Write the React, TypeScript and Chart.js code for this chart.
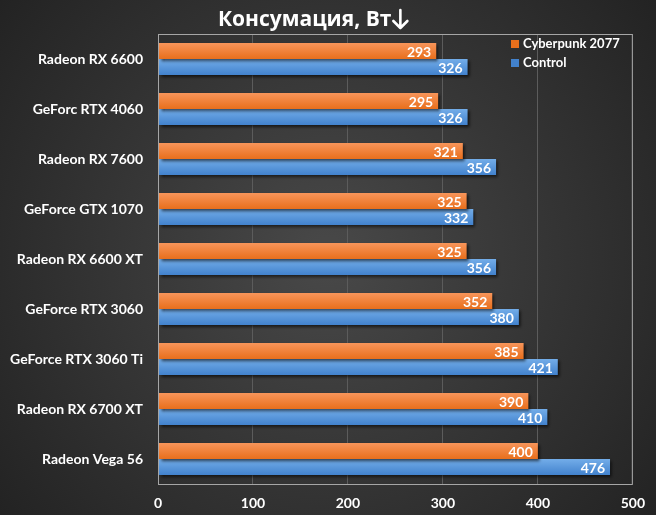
import { useEffect, useRef } from 'react';
import { Chart, registerables, Plugin } from 'chart.js';

Chart.register(...registerables);

const cards = [
  'Radeon RX 6600',
  'GeForc RTX 4060',
  'Radeon RX 7600',
  'GeForce GTX 1070',
  'Radeon RX 6600 XT',
  'GeForce RTX 3060',
  'GeForce RTX 3060 Ti',
  'Radeon RX 6700 XT',
  'Radeon Vega 56',
];
const cyberpunk = [293, 295, 321, 325, 325, 352, 385, 390, 400];
const control = [326, 326, 356, 332, 356, 380, 421, 410, 476];
const xTicks = [0, 100, 200, 300, 400, 500];

const TITLE = 'Консумация, Вт';
const orange = ['#f8955a', '#e86f1c'];
const blue = ['#73ade9', '#4282cd'];
const CAT_PCT = 0.64;

const backgroundPlugin: Plugin = {
  id: 'bg',
  beforeDraw(chart) {
    const { ctx, width, height } = chart;
    ctx.save();
    const g = ctx.createRadialGradient(width / 2, height / 2, 20, width / 2, height / 2, width * 0.75);
    g.addColorStop(0, '#474747');
    g.addColorStop(1, '#1c1c1c');
    ctx.fillStyle = g;
    ctx.fillRect(0, 0, width, height);
    ctx.restore();
  },
};

const shadowPlugin: Plugin = {
  id: 'shadow',
  beforeDatasetsDraw(chart) {
    const ctx = chart.ctx;
    ctx.save();
    ctx.shadowColor = 'rgba(0,0,0,0.65)';
    ctx.shadowOffsetX = 2;
    ctx.shadowOffsetY = 2;
    ctx.shadowBlur = 3;
  },
  afterDatasetsDraw(chart) {
    chart.ctx.restore();
  },
};

const overlayPlugin: Plugin = {
  id: 'overlay',
  afterDraw(chart) {
    const { ctx, chartArea } = chart;
    ctx.save();
    // frame
    ctx.strokeStyle = '#a6a6a6';
    ctx.lineWidth = 1;
    ctx.strokeRect(chartArea.left + 0.5, chartArea.top + 0.5, chartArea.right - chartArea.left - 1, chartArea.bottom - chartArea.top);

    // value labels
    ctx.fillStyle = '#ffffff';
    ctx.font = 'bold 14px Lato, "Open Sans", sans-serif';
    ctx.textAlign = 'right';
    ctx.textBaseline = 'middle';
    chart.data.datasets.forEach((ds, di) => {
      const meta = chart.getDatasetMeta(di);
      meta.data.forEach((bar: any, i) => {
        ctx.fillText(String(ds.data[i]), bar.x - 5, bar.y + 1);
      });
    });

    // title + arrow
    ctx.font = 'bold 21px "Open Sans", "Noto Sans", sans-serif';
    ctx.textAlign = 'left';
    const tw = ctx.measureText(TITLE).width;
    const x0 = 218;
    ctx.fillText(TITLE, x0, 20);
    const ax = x0 + tw + 9;
    ctx.strokeStyle = '#ffffff';
    ctx.lineWidth = 2.6;
    ctx.lineCap = 'round';
    ctx.lineJoin = 'round';
    ctx.beginPath();
    ctx.moveTo(ax, 10);
    ctx.lineTo(ax, 28);
    ctx.moveTo(ax - 7, 21);
    ctx.lineTo(ax, 28);
    ctx.lineTo(ax + 7, 21);
    ctx.stroke();

    // legend
    const cols = [orange[1], blue[1]];
    ctx.font = 'bold 13px Lato, "Open Sans", sans-serif';
    ctx.textAlign = 'left';
    chart.data.datasets.forEach((ds, di) => {
      const y = 44 + di * 19;
      ctx.fillStyle = cols[di];
      ctx.fillRect(511, y - 4, 8, 8);
      ctx.fillStyle = '#ffffff';
      ctx.fillText(String(ds.label), 523, y);
    });
    ctx.restore();
  },
};

// vertical gradient per bar, positioned from the category scale
function barFill(colors: string[], di: number) {
  return (c: any) => {
    const y = c.chart.scales?.y;
    if (!y || !y.height) return colors[1];
    const step = y.height / cards.length;
    const thick = (step * CAT_PCT) / 2;
    const center = y.getPixelForValue(c.dataIndex);
    const top = center - thick + di * thick;
    const g = c.chart.ctx.createLinearGradient(0, top, 0, top + thick);
    g.addColorStop(0, colors[0]);
    g.addColorStop(1, colors[1]);
    return g;
  };
}

export default function App() {
  const chartRef = useRef<HTMLCanvasElement>(null);
  const chartInstance = useRef<Chart | null>(null);

  useEffect(() => {
    document.body.style.margin = '0';
    if (!chartRef.current) return;
    if (chartInstance.current) chartInstance.current.destroy();
    const ctx = chartRef.current.getContext('2d');
    if (!ctx) return;

    chartInstance.current = new Chart(ctx, {
      type: 'bar',
      data: {
        labels: cards,
        datasets: [
          {
            label: 'Cyberpunk 2077',
            data: cyberpunk,
            backgroundColor: barFill(orange, 0),
            categoryPercentage: CAT_PCT,
            barPercentage: 1,
          },
          {
            label: 'Control',
            data: control,
            backgroundColor: barFill(blue, 1),
            categoryPercentage: CAT_PCT,
            barPercentage: 1,
          },
        ],
      },
      options: {
        indexAxis: 'y',
        responsive: false,
        animation: false,
        layout: { padding: { top: 34, right: 20, left: 0, bottom: 0 } },
        plugins: {
          legend: { display: false },
          title: { display: false },
          tooltip: { enabled: false },
        },
        scales: {
          x: {
            min: 0,
            max: 500,
            afterFit: (s: any) => { s.height = 31; },
            afterBuildTicks: (s: any) => { s.ticks = xTicks.map(v => ({ value: v })); },
            grid: { color: '#5c5c5c', drawTicks: false },
            border: { display: false },
            ticks: {
              color: '#ffffff',
              padding: 11,
              font: { family: 'Lato, "Open Sans", sans-serif', size: 14, weight: 'bold' },
            },
          },
          y: {
            afterFit: (s: any) => { s.width = 158; },
            grid: { display: false, drawTicks: false },
            border: { display: false },
            ticks: {
              color: '#ffffff',
              padding: 15,
              font: { family: 'Lato, "Open Sans", sans-serif', size: 14, weight: 'bold' },
            },
          },
        },
      },
      plugins: [backgroundPlugin, shadowPlugin, overlayPlugin],
    });

    return () => {
      if (chartInstance.current) {
        chartInstance.current.destroy();
        chartInstance.current = null;
      }
    };
  }, []);

  return (
    <div style={{ width: 656, height: 515 }}>
      <canvas ref={chartRef} width={656} height={515}></canvas>
    </div>
  );
}
